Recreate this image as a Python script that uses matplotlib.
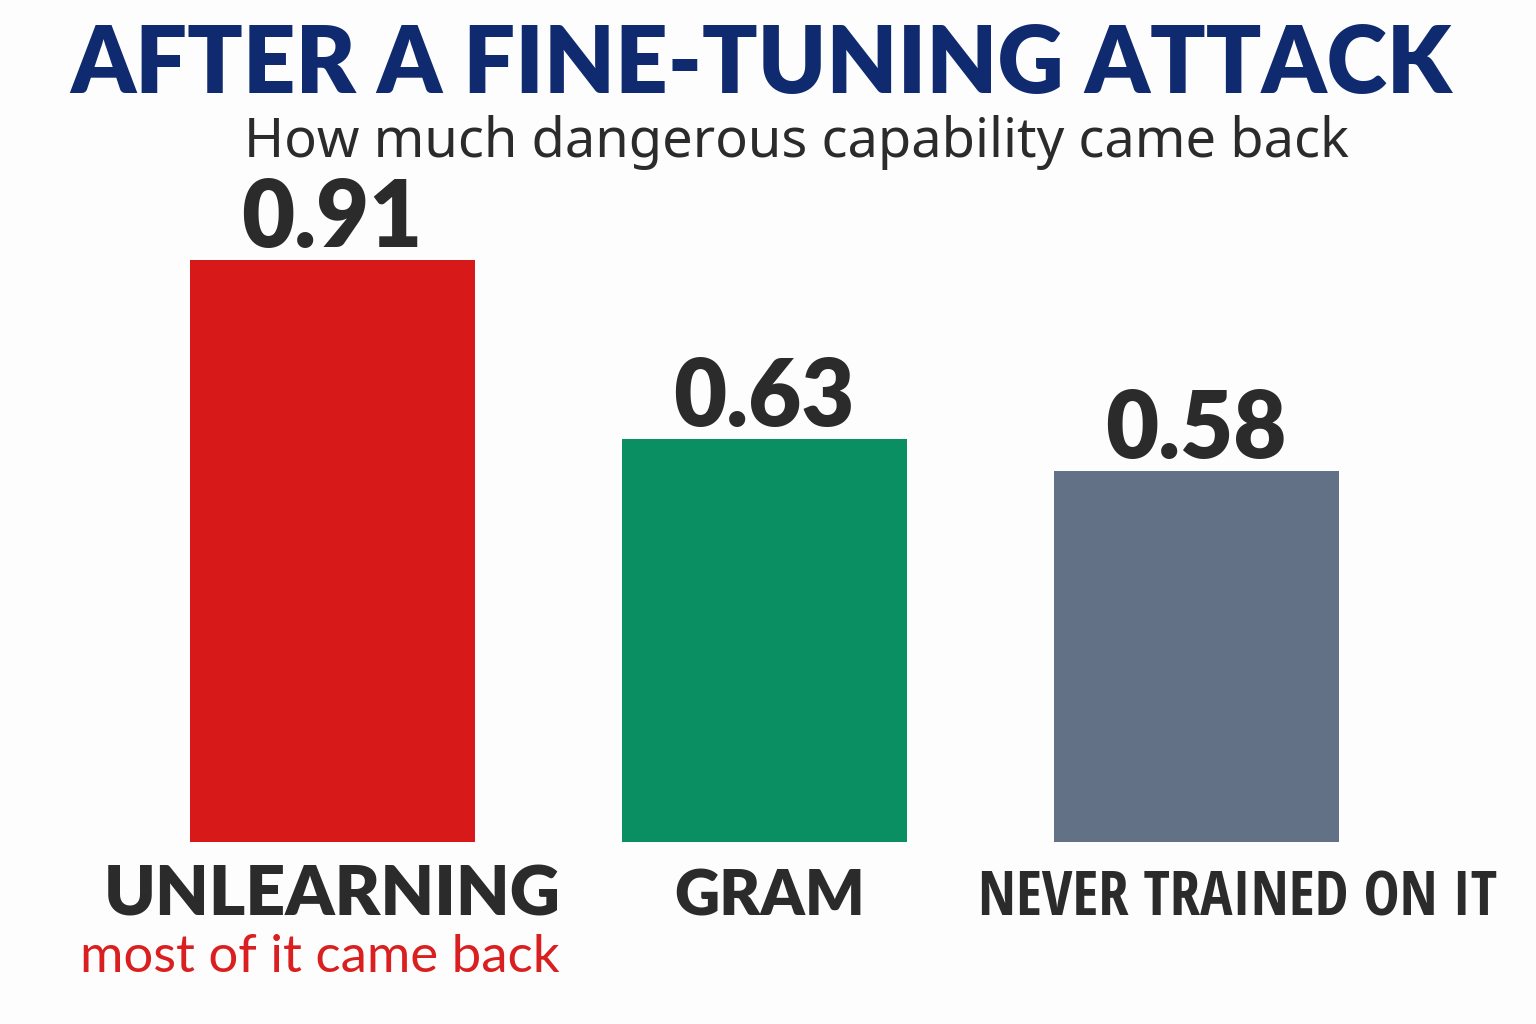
import matplotlib
matplotlib.use("Agg")
import matplotlib.pyplot as plt
from matplotlib import font_manager

categories = ["UNLEARNING", "GRAM", "NEVER TRAINED ON IT"]
values = [0.91, 0.63, 0.58]
value_labels = ["0.91", "0.63", "0.58"]
bar_colors = ["#D7191A", "#0A8F62", "#627186"]
title = "AFTER A FINE-TUNING ATTACK"
subtitle = "How much dangerous capability came back"
note = "most of it came back"

W, H = 1536, 1024
fig = plt.figure(figsize=(W / 100, H / 100), dpi=100)
fig.patch.set_facecolor("#FDFDFD")

def fy(py):
    return 1 - py / H

def fx(px):
    return px / W

names = {f.name for f in font_manager.fontManager.ttflist}
main_font = "Lato" if "Lato" in names else "DejaVu Sans"
sub_font = "Noto Sans" if "Noto Sans" in names else main_font

renderer = fig.canvas.get_renderer()

# pick the narrowest of the known sans families (bold) for the long label
families = ["Liberation Sans Narrow", "Roboto Condensed", "Open Sans Condensed",
            "Roboto", "Lato", "Inter", "Liberation Sans", "Open Sans", "Noto Sans"]
best_fp, best_w = None, 1e9
for fam in families:
    if fam not in names:
        continue
    for stretch in ("condensed", "normal"):
        fp = font_manager.FontProperties(family=fam, weight="bold", stretch=stretch, size=50)
        t = fig.text(0, 0, categories[2], fontproperties=fp)
        w = t.get_window_extent(renderer).width
        t.remove()
        if w < best_w:
            best_w, best_fp = w, fp

unit = 639.6
ax = fig.add_axes([0, 1 - 842 / H, 1, 842 / H])
ax.set_facecolor("none")
spacing = 432
c0 = 332
ax.set_xlim(-c0 / spacing, (W - c0) / spacing)
ax.set_ylim(0, 842 / unit)
ax.axis("off")

x = list(range(len(categories)))
ax.bar(x, values, width=285 / spacing, color=bar_colors)

for xi, v, lab in zip(x, values, value_labels):
    ax.annotate(lab, (xi, v), xytext=(0, 13 * 0.72), textcoords="offset points",
                ha="center", va="baseline", fontsize=66, fontweight="heavy",
                color="#2B2B2B", family=main_font)

cat_offsets = [0, 6, 41]
cat_widths = [453, 191, 519]
for xi, cat, off, wpx in zip(x, categories, cat_offsets, cat_widths):
    kw = dict(ha="center", va="baseline", color="#2B2B2B", textcoords="offset points")
    if len(cat) > 12 and best_fp is not None:
        t = ax.annotate(cat, (xi, 0), xytext=(off * 0.72, -73 * 0.72),
                        fontproperties=best_fp.copy(), **kw)
    else:
        t = ax.annotate(cat, (xi, 0), xytext=(off * 0.72, -73 * 0.72),
                        fontsize=50, fontweight="heavy", family=main_font, **kw)
    bb = t.get_window_extent(renderer)
    if bb.width > wpx * 1.04:
        t.set_fontsize(t.get_fontsize() * wpx / bb.width)

ax.annotate(note, (0, 0), xytext=(-12 * 0.72, -130 * 0.72), textcoords="offset points",
            ha="center", va="baseline", fontsize=38, color="#D91F1F", family=main_font)

fig.text(fx(761), fy(93), title, ha="center", va="baseline", fontsize=66,
         fontweight="heavy", color="#0F2A6E", family=main_font)
fig.text(fx(797), fy(157), subtitle, ha="center", va="baseline", fontsize=39,
         color="#2B2B2B", family=sub_font)

fig.savefig("out.png", dpi=100, facecolor=fig.get_facecolor())
